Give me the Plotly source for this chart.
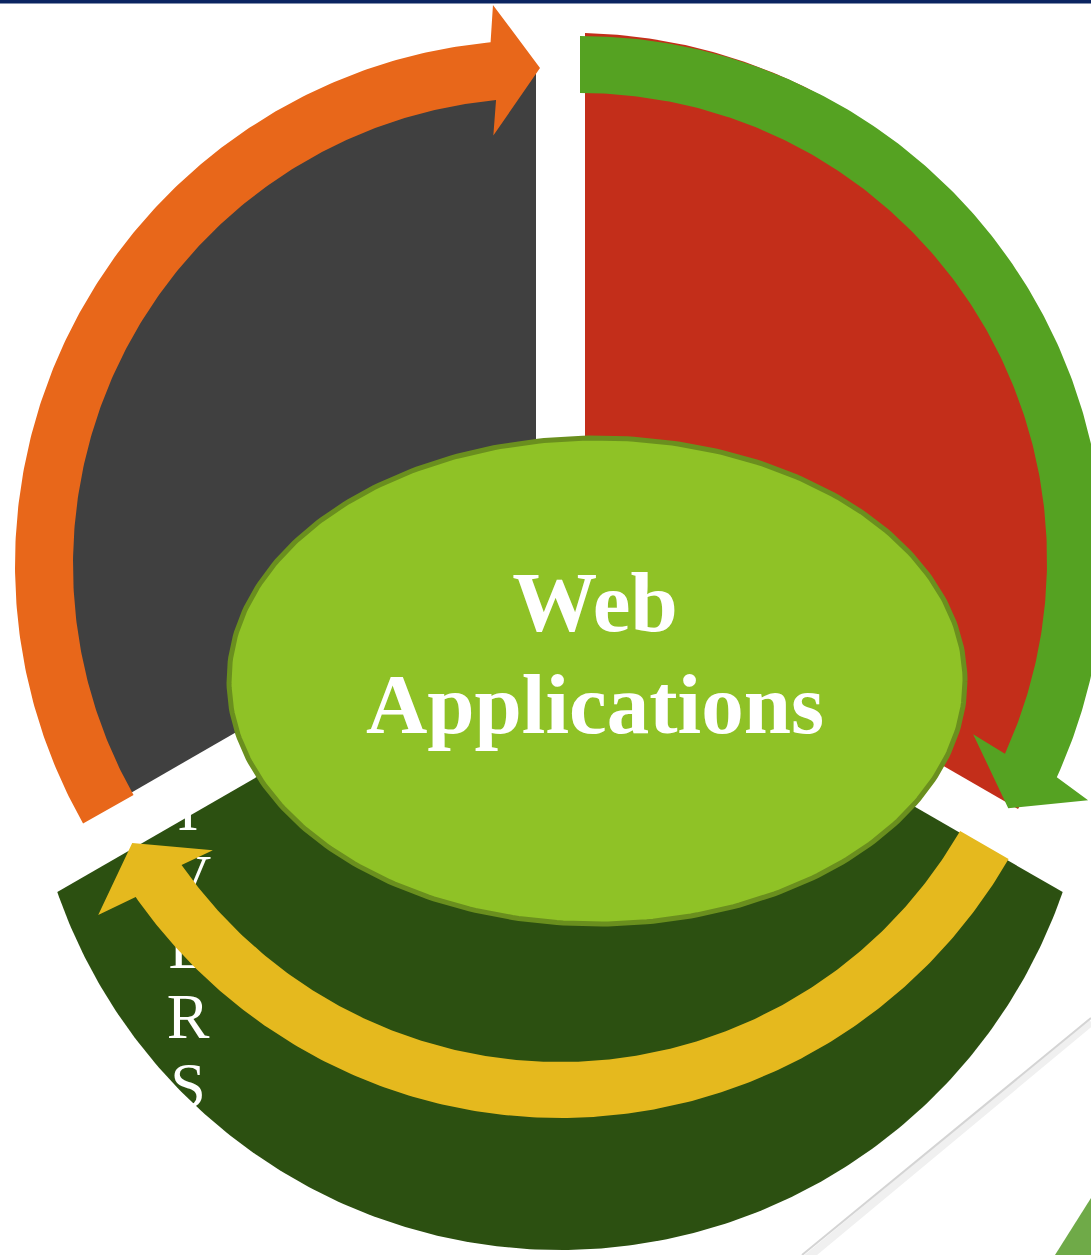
import numpy as np
import plotly.graph_objects as go

W, H = 1091, 1255

# ---------------- data ----------------
# exploded pie sectors (apex, angles in degrees, radius)
sector_names = ["Upper left", "Upper right", "Bottom"]
sector_colors = ["#404040", "#C32E1A", "#2C5011"]
gray_apex = (536, 559); gray_angles = (90, 210); gray_radius = 495
red_apex = (585, 559); red_angles = (90, -30); red_radius = (526, 500)
bottom_apex = (560, 602); bottom_arc_center = (560, 718); bottom_radius = 532
bottom_angles = (199.1, 340.9)

# curved arrows: center, inner/outer radius, start/end angle, wing radii/angles, tip angle/radius
arrow_names = ["Orange", "Green", "Yellow"]
arrow_colors = ["#E8671A", "#55A222", "#E5B91E"]
arrow_centers = [(540, 565), (580, 560), (560, 600)]
arrow_r_in = [467, 467, 462]
arrow_r_out = [525, 524, 518]
arrow_start = [209.5, 90, -30]
arrow_end = [95.4, -24.5, -145]
arrow_wing_in = [432, 430, 428]
arrow_wing_out = [562, 562, 559]
arrow_wing_in_angle = [96.2, -23.9, -144.2]
arrow_wing_out_angle = [94.8, -25.3, -145.7]
arrow_tip_angle = [90, -30.1, -150.4]
arrow_tip_r = [497, 495, 492]

# central ellipse
hub_center = (597, 681); hub_rx = 368; hub_ry = 243
hub_lines = ["Web", "Applications"]
hub_line_y = [610, 712]

# vertical label on bottom sector
side_letters = list("DRIVERS")
side_letter_y = [676, 745, 814, 883, 952, 1022, 1091]
side_letter_x = 188


def arc(cx, cy, r, a0, a1, n=240):
    a = np.radians(np.linspace(a0, a1, n))
    r = np.linspace(r[0], r[1], n) if isinstance(r, tuple) else r
    return cx + r * np.cos(a), cy - r * np.sin(a)


def pt(cx, cy, r, a):
    a = np.radians(a)
    return cx + r * np.cos(a), cy - r * np.sin(a)


fig = go.Figure()

def poly(x, y, color, line_color=None, lw=0):
    fig.add_trace(go.Scatter(
        x=list(x), y=list(y), mode="lines", fill="toself", fillcolor=color,
        line=dict(color=line_color or color, width=lw), hoverinfo="skip", showlegend=False))

# bottom sector
bx, by = arc(bottom_arc_center[0], bottom_arc_center[1], bottom_radius, *bottom_angles)
poly(np.r_[bottom_apex[0], bx, bottom_apex[0]], np.r_[bottom_apex[1], by, bottom_apex[1]], sector_colors[2])

# vertical letters
fig.add_trace(go.Scatter(
    x=[side_letter_x] * len(side_letters), y=side_letter_y, text=side_letters, mode="text",
    textposition="middle center",
    textfont=dict(family="Liberation Serif", size=64, color="white"),
    hoverinfo="skip", showlegend=False))

# gray sector
gx, gy = arc(gray_apex[0], gray_apex[1], gray_radius, *gray_angles)
poly(np.r_[gray_apex[0], gx, gray_apex[0]], np.r_[gray_apex[1], gy, gray_apex[1]], sector_colors[0])

# red sector
rx, ry = arc(red_apex[0], red_apex[1], red_radius, *red_angles)
poly(np.r_[red_apex[0], rx, red_apex[0]], np.r_[red_apex[1], ry, red_apex[1]], sector_colors[1])

# arrows
for i in range(3):
    cx, cy = arrow_centers[i]
    xo, yo = arc(cx, cy, arrow_r_out[i], arrow_start[i], arrow_end[i])
    xi, yi = arc(cx, cy, arrow_r_in[i], arrow_end[i], arrow_start[i])
    wox, woy = pt(cx, cy, arrow_wing_out[i], arrow_wing_out_angle[i])
    tx, ty = pt(cx, cy, arrow_tip_r[i], arrow_tip_angle[i])
    wix, wiy = pt(cx, cy, arrow_wing_in[i], arrow_wing_in_angle[i])
    x = np.r_[xo, wox, tx, wix, xi, xo[0]]
    y = np.r_[yo, woy, ty, wiy, yi, yo[0]]
    poly(x, y, arrow_colors[i])

# hub ellipse
t = np.linspace(0, 2 * np.pi, 360)
poly(hub_center[0] + hub_rx * np.cos(t), hub_center[1] + hub_ry * np.sin(t), "#8FC226", "#6A8F1E", 5)

fig.add_trace(go.Scatter(
    x=[595, 595], y=hub_line_y, text=["<b>%s</b>" % s for s in hub_lines], mode="text",
    textposition="middle center",
    textfont=dict(family="Liberation Serif", size=85, color="white"),
    hoverinfo="skip", showlegend=False))

# decorations
fig.add_shape(type="rect", x0=0, x1=W, y0=0, y1=3.5, fillcolor="#0B2461", line_width=0)
fig.add_shape(type="line", x0=1091, y0=1022, x1=806, y1=1259, line=dict(color="#F0F0F0", width=8))
fig.add_shape(type="line", x0=1091, y0=1018, x1=802, y1=1255, line=dict(color="#D4D4D4", width=2))
fig.add_shape(type="path", path="M 1091 1198 L 1091 1255 L 1055 1255 Z", fillcolor="#6FAA48", line_width=0)

fig.update_layout(
    width=W, height=H, margin=dict(l=0, r=0, t=0, b=0),
    paper_bgcolor="white", plot_bgcolor="white",
    xaxis=dict(range=[0, W], visible=False, fixedrange=True),
    yaxis=dict(range=[H, 0], visible=False, fixedrange=True),
)

fig.write_html(
    "out.html",
    config=dict(displayModeBar=False),
    post_script="document.body.style.margin='0';document.body.style.overflow='hidden';",
)
